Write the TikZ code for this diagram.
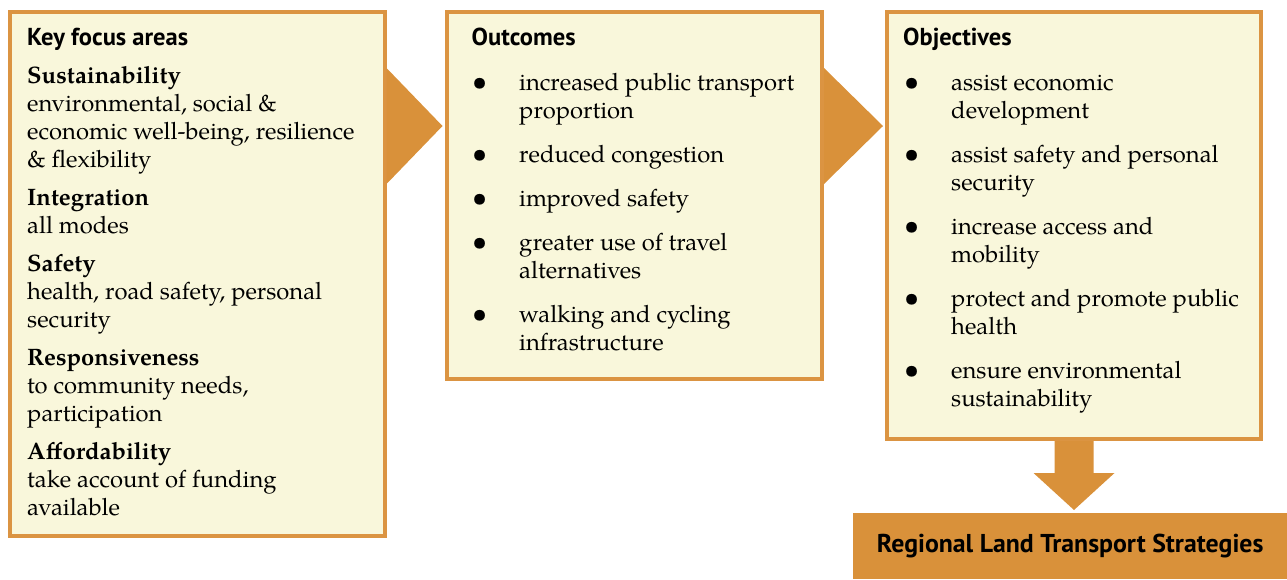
\documentclass[tikz,border=0pt]{standalone}
\usepackage{fontspec}
\setmainfont{TeX Gyre Pagella}
\newfontfamily\headfont{PT Sans}
\usetikzlibrary{calc}

\definecolor{boxfill}{HTML}{F9F7DB}
\definecolor{boxline}{HTML}{DB9442}
\definecolor{arrowfill}{HTML}{D9913A}

\newcommand{\dotmark}{{\fontsize{27}{28}\selectfont\textbullet}}

\tikzset{
	panel/.style={draw=boxline, line width=4pt, fill=boxfill, anchor=north west, inner sep=0pt},
	heading/.style={font=\headfont\bfseries\fontsize{24.5}{26}\selectfont, anchor=base west, inner sep=0pt},
	body/.style={font=\fontsize{23.8}{28}\selectfont, anchor=base west, inner sep=0pt},
	strategy/.style={fill=arrowfill, anchor=north west, inner sep=0pt, minimum width=434pt, minimum height=66pt,
		font=\headfont\bfseries\fontsize{25.8}{26}\selectfont},
}

\begin{document}
\begin{tikzpicture}[x=1pt,y=-1pt]
	\useasboundingbox (0,0) rectangle (1287,579);

	% Kasten 1 : Key focus areas
	\node[panel, minimum width=374.5pt, minimum height=524.2pt] (focus) at (8,9.5) {};
	\node[heading] (focushead) at (27,45.7) {Key focus areas};
	\node[body] (focustext) at (27,83.3) {\begin{tabular}[t]{@{}l@{}}
		\textbf{Sustainability}\\
		environmental, social \&\\
		economic well-being, resilience\\
		\& flexibility\\[10pt]
		\textbf{Integration}\\
		all modes\\[10pt]
		\textbf{Safety}\\
		health, road safety, personal\\
		security\\[10pt]
		\textbf{Responsiveness}\\
		to community needs,\\
		participation\\[10pt]
		\textbf{Affordability}\\
		take account of funding\\
		available
	\end{tabular}};

	% Kasten 2 : Outcomes
	\node[panel, minimum width=375pt, minimum height=367pt] (outcomes) at (445,9.5) {};
	\node[heading] (outhead) at (471.5,45) {Outcomes};
	\node[body] (outtext) at (472,90) {\begin{tabular}[t]{@{}p{47pt}@{}l@{}}
		\dotmark & increased public transport\\
		& proportion\\[16pt]
		\dotmark & reduced congestion\\[16pt]
		\dotmark & improved safety\\[16pt]
		\dotmark & greater use of travel\\
		& alternatives\\[16pt]
		\dotmark & walking and cycling\\
		& infrastructure
	\end{tabular}};

	% Kasten 3 : Objectives
	\node[panel, minimum width=374pt, minimum height=427.5pt] (objectives) at (885,9.5) {};
	\node[heading] (objhead) at (903,45) {Objectives};
	\node[body] (objtext) at (904,90) {\begin{tabular}[t]{@{}p{47pt}@{}l@{}}
		\dotmark & assist economic\\
		& development\\[16pt]
		\dotmark & assist safety and personal\\
		& security\\[16pt]
		\dotmark & increase access and\\
		& mobility\\[16pt]
		\dotmark & protect and promote public\\
		& health\\[16pt]
		\dotmark & ensure environmental\\
		& sustainability
	\end{tabular}};

	% Kasten unten
	\node[strategy] (rlts) at (853,513) {\raisebox{-3pt}{Regional Land Transport Strategies}};

	% Pfeile zwischen den Kasten
	\fill[arrowfill] ($(focus.north east)+(0,58.5)$) -- ($(focus.north east)+(56,116.5)$)
		-- ($(focus.north east)+(0,174.5)$) -- cycle;
	\fill[arrowfill] ($(outcomes.north east)+(0,58.5)$) -- ($(outcomes.north east)+(59,116.5)$)
		-- ($(outcomes.north east)+(0,174.5)$) -- cycle;

	% Pfeil nach unten
	\fill[arrowfill] ($(objectives.south)+(-19.5,0)$) -- ($(objectives.south)+(-19.5,32)$)
		-- ($(objectives.south)+(-40.5,32)$) -- ($(rlts.north -| objectives.south)+(0,-3)$)
		-- ($(objectives.south)+(40.5,32)$) -- ($(objectives.south)+(19.5,32)$)
		-- ($(objectives.south)+(19.5,0)$) -- cycle;

\end{tikzpicture}
\end{document}
